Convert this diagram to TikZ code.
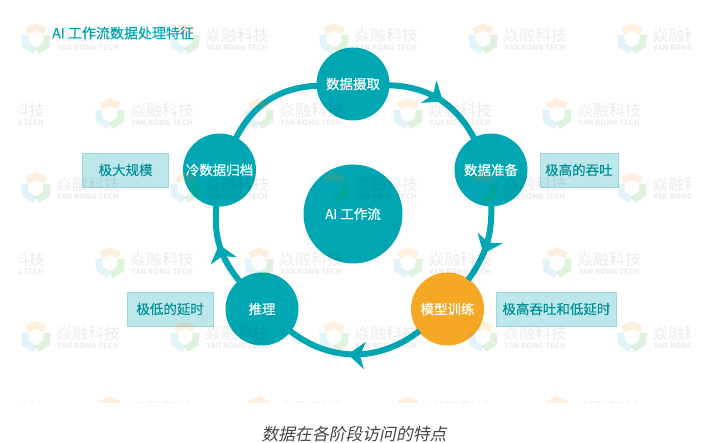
\documentclass[tikz,border=0pt]{standalone}
\usepackage{fontspec}
\setmainfont{Noto Sans CJK SC}
\newfontfamily\capfont[FakeSlant=0.2]{Noto Sans CJK SC}
\newfontfamily\labelfont[FakeBold=0.25]{Noto Sans CJK SC}
\usetikzlibrary{positioning, arrows.meta, decorations.markings}
\definecolor{ringteal}{HTML}{00A7B2}
\definecolor{noteteal}{HTML}{BEE7EB}
\definecolor{edgeteal}{HTML}{9ADBE0}
\definecolor{trainorange}{HTML}{F5A823}
\definecolor{capgray}{HTML}{444444}

\begin{document}
\begin{tikzpicture}[x=1pt, y=1pt,
    >={Stealth[length=17pt,width=27pt,inset=5pt]},
    stage/.style={circle, fill=ringteal, text=white, minimum size=73pt, inner sep=0pt, font=\fontsize{13.5pt}{15pt}\labelfont},
    note/.style={rectangle, fill=noteteal, draw=edgeteal, text=ringteal!85!black, minimum height=34pt, inner sep=0pt, font=\fontsize{13.5pt}{15pt}\labelfont},
    ring/.style={draw=ringteal, line width=6pt, shorten <=-1pt, shorten >=-1pt},
    tipat/.style={postaction={decorate, decoration={markings, mark=at position #1 with {\arrow[ringteal]{>}}}}},
    wmtext/.style={text=black, text opacity=0.075, inner sep=0pt},
    petal/.style={line width=7pt, opacity=0.13}]

  \useasboundingbox (0,0) rectangle (709,-443);

  \node[anchor=west, inner sep=0pt, text=ringteal, font=\fontsize{14pt}{16pt}\labelfont] (title) at (52,-33) {AI 工作流数据处理特征};

  \node[stage] (take) at (353,-84) {数据摄取};
  \node[stage] (prep) at (491,-170) {数据准备};
  \node[stage, fill=trainorange] (train) at (447.5,-309) {模型训练};
  \node[stage] (infer) at (262,-309) {推理};
  \node[stage] (cold) at (219.5,-170) {冷数据归档};
  \node[stage, minimum size=99pt] (flow) at (353,-214) {AI 工作流};

  \draw[ring, tipat=0.54] (take) to[bend left=30] (prep);
  \draw[ring, tipat=0.62] (prep) to[bend left=18] (train);
  \draw[ring, tipat=0.55] (train) to[bend left=38] (infer);
  \draw[ring, tipat=0.52] (infer) to[bend left=22] (cold);
  \draw[ring] (cold) to[bend left=30] (take);

  \node[note, minimum width=86pt, left=14pt of cold] (coldnote) {极大规模};
  \node[note, minimum width=78pt, right=12pt of prep] (prepnote) {极高的吞吐};
  \node[note, minimum width=120pt, right=12pt of train] (trainnote) {极高吞吐和低延时};
  \node[note, minimum width=86pt, left=12pt of infer] (infernote) {极低的延时};

  \node[anchor=center, inner sep=0pt, text=capgray, font=\fontsize{16.8pt}{19pt}\capfont] (caption) at (354,-434) {数据在各阶段访问的特点};

  % faint marks over the whole sheet
  \begin{scope}
    \clip (18,-15) rectangle (690,-402);
    \foreach \wy/\wx in {39/-113, 114/-39, 188/-113, 263/-39, 337/-113, 412/-39} {
      \foreach \k in {0,...,5} {
        \pgfmathsetmacro{\wq}{\wx+149*\k}
        \begin{scope}[shift={(\wq,-\wy)}]
          \draw[petal, draw=orange] (140:12pt) -- (90:12pt) -- (40:12pt);
          \draw[petal, draw=cyan!70!teal] (160:12pt) -- (210:12pt) -- (265:12pt);
          \draw[petal, draw=green!60!black] (20:12pt) -- (-30:12pt) -- (-85:12pt);
          \node[wmtext, font=\fontsize{16pt}{18pt}\selectfont] (wmname\wy-\k) at (52,4) {焱融科技};
          \node[wmtext, font=\fontsize{7.5pt}{9pt}\selectfont\bfseries] (wmsub\wy-\k) at (52,-9) {YAN RONG TECH};
        \end{scope}
      }
    }
  \end{scope}
\end{tikzpicture}
\end{document}
